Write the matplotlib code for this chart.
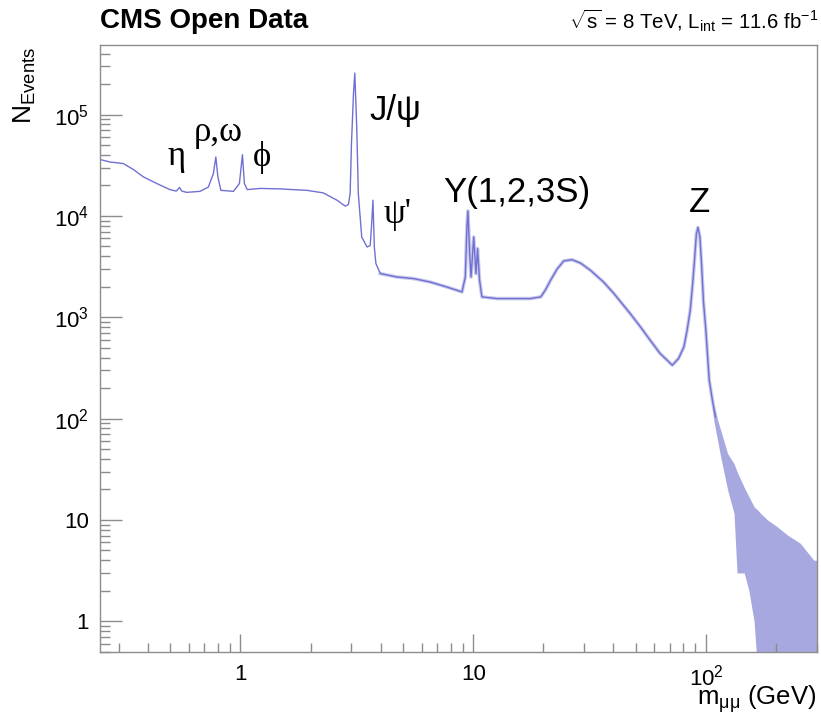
#! /usr/bin/env python3
# Dimuon invariant mass spectrum, CMS Open Data style

import math

import matplotlib
matplotlib.use('Agg')
import matplotlib.pyplot as plt
from matplotlib.ticker import FixedLocator, FuncFormatter, LogLocator, NullFormatter

# main spectrum (GeV, events)
mass = [0.25, 0.275, 0.314, 0.347, 0.383, 0.437, 0.498, 0.53, 0.547, 0.56, 0.588,
        0.671, 0.728, 0.765, 0.784, 0.80, 0.824, 0.933, 0.99, 1.02, 1.04, 1.07,
        1.215, 1.48, 1.93, 2.27, 2.60, 2.82, 2.91, 2.96, 3.00, 3.06, 3.10, 3.16,
        3.21, 3.32, 3.50, 3.61, 3.67, 3.71, 3.76, 3.82, 3.99, 4.70, 5.54, 6.53,
        7.71, 8.50, 8.95, 9.25, 9.40, 9.49, 9.66, 9.79, 10.05, 10.28, 10.44,
        10.65, 10.9, 12.67, 14.94, 17.6, 19.5, 20.4, 21.5, 22.95, 24.5, 26.6,
        28.9, 31.9, 36.3, 40.2, 47.4, 52.4, 57.6, 63.5, 71.7, 76.3, 80.4, 83.0,
        85.6, 87.7, 89.5, 91.0, 92.4, 94.2, 95.9, 97.5, 99.9, 103.3, 106.6,
        109.9]
counts = [3.6e4, 3.41e4, 3.29e4, 2.87e4, 2.43e4, 2.09e4, 1.82e4, 1.76e4, 1.91e4,
          1.76e4, 1.71e4, 1.75e4, 1.93e4, 2.62e4, 3.82e4, 2.43e4, 1.79e4, 1.75e4,
          2.09e4, 4.03e4, 2.09e4, 1.82e4, 1.87e4, 1.85e4, 1.79e4, 1.69e4, 1.43e4,
          1.25e4, 1.30e4, 1.66e4, 5.2e4, 1.61e5, 2.57e5, 7.5e4, 1.66e4, 6.2e3,
          4.94e3, 5.1e3, 9.0e3, 1.43e4, 4.94e3, 3.39e3, 2.7e3, 2.5e3, 2.41e3,
          2.23e3, 1.99e3, 1.85e3, 1.78e3, 2.5e3, 7.8e3, 1.12e4, 4.26e3, 2.5e3,
          6.2e3, 2.7e3, 4.77e3, 2.32e3, 1.59e3, 1.53e3, 1.53e3, 1.53e3, 1.59e3,
          1.85e3, 2.32e3, 3.0e3, 3.6e3, 3.7e3, 3.43e3, 2.91e3, 2.23e3, 1.72e3,
          1.08e3, 800, 594, 440, 337, 393, 511, 746, 1.17e3, 2.15e3, 3.94e3,
          6.7e3, 7.7e3, 6.2e3, 3.14e3, 1.47e3, 746, 240, 152, 104]

# high mass tail: envelope of the fluctuating bins
band_mass = [106.6, 108, 115.7, 124, 132, 136, 146, 153, 161, 167, 172, 184, 202,
             224, 254, 291, 305]
band_hi = [152, 131, 77, 45, 36, 30, 21, 17, 13.5, 12.5, 11.6, 10, 8.6, 7.1, 5.9,
           4.0, 4.0]
band_lo = [152, 97, 42, 19.7, 11.6, 3.0, 3.0, 2.0, 1.0, 0.3, 0.3, 0.3, 0.3, 0.3,
           0.3, 0.3, 0.3]

# resonance labels: (text, mass, events, alignment, font)
peak_labels = [
    ('η', 0.531, 3.17e4, 'center', 'Liberation Serif'),
    ('ρ,ω', 0.802, 5.46e4, 'center', 'Liberation Serif'),
    ('ϕ', 1.234, 3.1e4, 'center', 'Liberation Serif'),
    ('J/ψ', 3.57, 8.8e4, 'left', 'Liberation Sans'),
    ("ψ'", 4.11, 8.47e3, 'left', 'Liberation Serif'),
    ('Υ(1,2,3S)', 7.44, 1.37e4, 'left', 'Liberation Sans'),
    ('Z', 93.9, 1.09e4, 'center', 'Liberation Sans'),
]

plt.rcParams['font.family'] = ['Liberation Sans', 'DejaVu Sans']
plt.rcParams['mathtext.fontset'] = 'custom'
plt.rcParams['mathtext.rm'] = 'Liberation Sans'
plt.rcParams['mathtext.it'] = 'Liberation Sans:italic'
plt.rcParams['mathtext.bf'] = 'Liberation Sans:bold'

W, H = 821, 715
fig = plt.figure(figsize=(W / 100, H / 100), dpi=100)
ax = fig.add_axes([100.3 / W, 1 - 651.8 / H, (817 - 100.3) / W, (651.8 - 44.7) / H])

line_color = '#7070d2'
ax.fill_between(band_mass, band_lo, band_hi, color='#a8a8e0', linewidth=0)
# the statistically noisy part above the psi' looks slightly fuzzy
ax.plot(mass[42:], counts[42:], color='#a8a8e0', linewidth=2.6, alpha=0.6)
ax.plot(mass, counts, color=line_color, linewidth=1.0)

ax.set_xscale('log')
ax.set_yscale('log')
ax.set_xlim(0.25, 300)
ax.set_ylim(0.5, 4.9e5)


def root_label(v, pos):
    if v == 1:
        return '1'
    if v == 10:
        return '10'
    return r'$\mathregular{10^{%d}}$' % round(math.log10(v))


ax.xaxis.set_major_locator(FixedLocator([1, 10, 100]))
ax.yaxis.set_major_locator(FixedLocator([1, 10, 1e2, 1e3, 1e4, 1e5]))
ax.xaxis.set_minor_locator(LogLocator(base=10, subs=range(2, 10), numticks=20))
ax.yaxis.set_minor_locator(LogLocator(base=10, subs=range(2, 10), numticks=20))
ax.xaxis.set_major_formatter(FuncFormatter(root_label))
ax.yaxis.set_major_formatter(FuncFormatter(root_label))
ax.xaxis.set_minor_formatter(NullFormatter())
ax.yaxis.set_minor_formatter(NullFormatter())

frame_color = '#8c8c8c'
for s in ax.spines.values():
    s.set_color(frame_color)
    s.set_linewidth(1.0)
ax.tick_params(which='both', direction='in', color=frame_color, width=1.0,
               top=False, right=False, labelsize=16)
ax.tick_params(axis='x', which='major', length=13.2, pad=9)
ax.tick_params(axis='x', which='minor', length=6.7)
ax.tick_params(axis='y', which='major', length=15.6, pad=8)
ax.tick_params(axis='y', which='minor', length=7.4)

for text, m, n, ha, fam in peak_labels:
    ax.text(m, n, text, ha=ha, va='baseline', fontsize=25, family=[fam, 'DejaVu Sans'])

fig.text(100 / W, 1 - 28.5 / H, 'CMS Open Data', fontsize=20, fontweight='bold',
         ha='left', va='baseline')
fig.text(818 / W, 1 - 28.5 / H,
         r'$\sqrt{\mathrm{s}}$ = 8 TeV, L$_{\mathrm{int}}$ = 11.6 fb$^{-1}$',
         fontsize=14.7, ha='right', va='baseline')
fig.text(816 / W, 1 - 705 / H, r'm$_{\mathrm{μμ}}$ (GeV)', fontsize=18.5,
         ha='right', va='baseline')
fig.text(25 / W, 1 - 47 / H, r'N$_{\mathrm{Events}}$', fontsize=19, rotation=90,
         ha='center', va='top')

fig.savefig('out.png', dpi=100)
